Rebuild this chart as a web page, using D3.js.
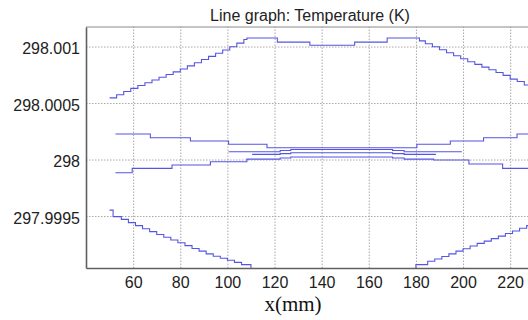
<!DOCTYPE html>
<html>
<head>
<meta charset="utf-8">
<script src="https://cdn.jsdelivr.net/npm/d3@7"></script>
<style>
  html, body { margin: 0; padding: 0; background: #fff; }
  svg { display: block; }
</style>
</head>
<body>
<svg id="chart" width="528" height="320"></svg>
<script>
// ---------------- data ----------------
const titleText = "Line graph: Temperature (K)";
const xLabelText = "x(mm)";
const xTicks = [60, 80, 100, 120, 140, 160, 180, 200, 220];
const yTicks = [297.9995, 298, 298.0005, 298.001];
const yTickLabels = ["297.9995", "298", "298.0005", "298.001"];

// outer upper curve
const topX = [50, 53, 56, 59, 62, 65, 68, 71, 74, 77, 80, 83, 86, 89, 92, 95, 98, 101, 104, 107,
              108.3, 121.2, 135, 154, 167.8, 181.5, 184, 187, 190, 193, 196, 199, 202, 205, 208,
              211, 214, 217, 220, 223, 226, 229, 232, 235, 238];
const topT = [298.000546, 298.000574, 298.000602, 298.000630, 298.000655, 298.000680, 298.000704,
              298.000728, 298.000752, 298.000776, 298.000801, 298.000829, 298.000857, 298.000885,
              298.000913, 298.000941, 298.000969, 298.000998, 298.001030, 298.001062,
              298.001075, 298.001039, 298.001012, 298.001039, 298.001075, 298.001050, 298.001025,
              298.000998, 298.000972, 298.000945, 298.000918, 298.000892, 298.000866, 298.000842,
              298.000818, 298.000795, 298.000770, 298.000745, 298.000712, 298.000690, 298.000660,
              298.000635, 298.000605, 298.000575, 298.000546];

// outer lower curve (left part, leaves the axis range)
const botLX = [50, 51.5, 55, 58, 61, 64, 67, 70, 73, 76, 79, 82, 85, 88, 91, 94, 97, 100, 103, 106, 110];
const botLT = [297.999552, 297.999495, 297.999470, 297.999442, 297.999415, 297.999388, 297.999362,
               297.999337, 297.999312, 297.999288, 297.999263, 297.999238, 297.999213, 297.999189,
               297.999165, 297.999144, 297.999126, 297.999108, 297.999090, 297.999070, 297.999025];
// outer lower curve (right part, re-enters the axis range)
const botRX = [180, 180, 185, 188, 191, 194, 197, 200, 203, 206, 209, 212, 215, 218, 221, 224, 227,
               230, 233, 236, 239];
const botRT = [297.999025, 297.999070, 297.999100, 297.999120, 297.999142, 297.999165, 297.999189,
               297.999210, 297.999235, 297.999258, 297.999278, 297.999300, 297.999322, 297.999345,
               297.999368, 297.999392, 297.999415, 297.999440, 297.999467, 297.999495, 297.999540];

// inner lines
const lineAX = [52.5, 67.3, 84.3, 100.5, 116.8, 180.4, 194.6, 208.7, 222.9, 239];
const lineAT = [298.000226, 298.000193, 298.000164, 298.000135, 298.000104, 298.000135, 298.000164,
                298.000193, 298.000226, 298.000226];
const lineBX = [52.5, 59.6, 76.5, 92.8, 108.3, 122.4, 126.9, 170.1, 175, 187.5, 202.5, 216.8, 231, 239];
const lineBT = [297.999883, 297.999922, 297.999951, 297.999981, 298.000004, 298.000013, 298.000022,
                298.000013, 298.000004, 297.999996, 297.999960, 297.999922, 297.999883, 297.999883];
const lineCX = [100.5, 122.4, 126.9, 170.1, 175, 199.5];
const lineCT = [298.000069, 298.000080, 298.000089, 298.000080, 298.000069, 298.000069];
const lineDX = [110.5, 122.4, 126.9, 170.1, 175, 188.5];
const lineDT = [298.000046, 298.000052, 298.000060, 298.000052, 298.000046, 298.000046];

const series = [
  {x: topX, t: topT},
  {x: botLX, t: botLT},
  {x: botRX, t: botRT},
  {x: lineAX, t: lineAT},
  {x: lineBX, t: lineBT},
  {x: lineCX, t: lineCT},
  {x: lineDX, t: lineDT}
];

// ---------------- layout ----------------
const svg = d3.select("#chart");
const mLeft = 86, mTop = 27, mBottom = 268, mRight = 557.3;

const x = d3.scaleLinear().domain([40, 240]).range([mLeft, mRight]);
const y = d3.scaleLinear().domain([297.99904, 298.001173]).range([mBottom, mTop]);

// grid
const grid = svg.append("g").attr("class", "grid");
grid.append("g")
  .attr("transform", `translate(0,${mBottom})`)
  .call(d3.axisBottom(x).tickValues(xTicks).tickSize(-(mBottom - mTop)).tickFormat(""))
  .call(g => g.select(".domain").remove())
  .call(g => g.selectAll("line").attr("stroke", "#a8a8a8").attr("stroke-dasharray", "1.5,1.5"));
grid.append("g")
  .attr("transform", `translate(${mLeft},0)`)
  .call(d3.axisLeft(y).tickValues(yTicks).tickSize(-(mRight - mLeft)).tickFormat(""))
  .call(g => g.select(".domain").remove())
  .call(g => g.selectAll("line").attr("stroke", "#a8a8a8").attr("stroke-dasharray", "1.5,1.5"));

// clip
svg.append("clipPath").attr("id", "plotclip")
  .append("rect").attr("x", mLeft).attr("y", mTop).attr("width", mRight - mLeft).attr("height", mBottom - mTop);

// lines
const lineGen = d3.line()
  .x(d => x(d[0]))
  .y(d => y(d[1]))
  .curve(d3.curveStepAfter);

svg.append("g").attr("clip-path", "url(#plotclip)")
  .selectAll("path")
  .data(series)
  .join("path")
  .attr("d", s => lineGen(s.x.map((v, i) => [v, s.t[i]])))
  .attr("fill", "none")
  .attr("stroke", "#5555e4")
  .attr("stroke-width", 1.1);

// frame
svg.append("line").attr("x1", mLeft).attr("x2", mRight).attr("y1", mTop).attr("y2", mTop)
  .attr("stroke", "#8a8a8a").attr("stroke-width", 1);

// axes
const fontFam = "'Liberation Sans', Arial, sans-serif";
const xAxis = svg.append("g")
  .attr("transform", `translate(0,${mBottom})`)
  .call(d3.axisBottom(x).tickValues(xTicks).tickSize(0).tickPadding(9).tickFormat(d3.format("d")));
xAxis.select(".domain").attr("stroke", "#606060").attr("stroke-width", 1.6);
xAxis.selectAll("text").attr("font-family", fontFam).attr("font-size", 16).attr("fill", "#222");

const yAxis = svg.append("g")
  .attr("transform", `translate(${mLeft},0)`)
  .call(d3.axisLeft(y).tickValues(yTicks).tickSize(0).tickPadding(6).tickFormat((d, i) => yTickLabels[i]));
yAxis.select(".domain").attr("stroke", "#606060").attr("stroke-width", 1.6);
yAxis.selectAll("text").attr("font-family", fontFam).attr("font-size", 16).attr("fill", "#222").attr("dy", "0.45em");

// title
svg.append("text")
  .attr("x", 310).attr("y", 21)
  .attr("text-anchor", "middle")
  .attr("font-family", fontFam).attr("font-size", 16).attr("fill", "#222")
  .text(titleText);

// x label
svg.append("text")
  .attr("x", 293).attr("y", 311)
  .attr("text-anchor", "middle")
  .attr("font-family", "'Liberation Serif', 'Times New Roman', serif").attr("font-size", 21).attr("fill", "#111")
  .text(xLabelText);
</script>
</body>
</html>
